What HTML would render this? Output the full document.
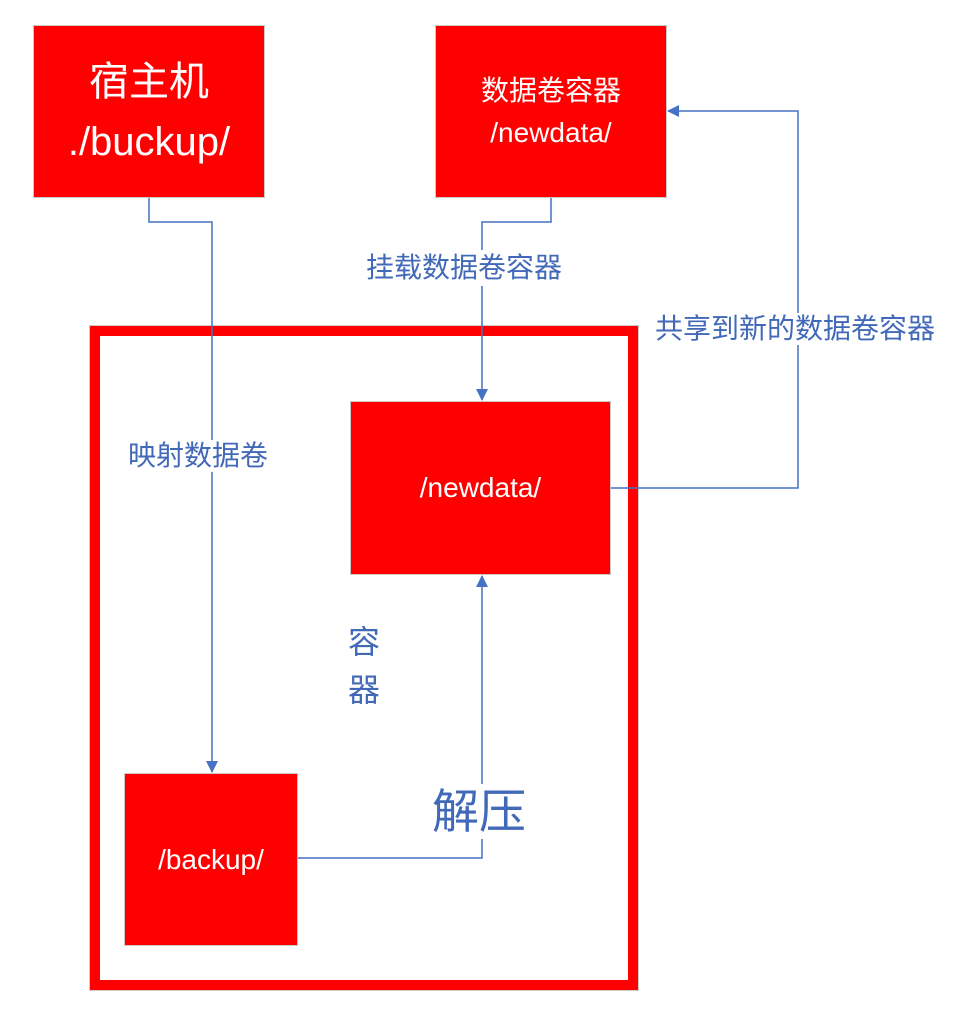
<!DOCTYPE html>
<html><head><meta charset="utf-8"><style>
body{margin:0;background:#fff;width:962px;height:1028px;overflow:hidden;position:relative;font-family:"Liberation Sans","Noto Sans CJK SC",sans-serif}
.box{position:absolute;background:#ff0000;border:1px solid #c8c8c8;box-sizing:border-box;color:#fff;display:flex;flex-direction:column;align-items:center;justify-content:center;text-align:center}
.t{position:absolute;color:#4169b8;white-space:nowrap;background:#fff;line-height:1}
</style></head><body>
<div style="position:absolute;left:90px;top:326px;width:548px;height:664px;border:10px solid #ff0000;box-sizing:border-box;outline:1px solid #ccc"></div>
<svg width="962" height="1028" style="position:absolute;left:0;top:0">
<defs><marker id="a" markerWidth="12" markerHeight="12" refX="11" refY="6" orient="auto" markerUnits="userSpaceOnUse"><path d="M0,0L12,6L0,12z" fill="#4472c4"/></marker></defs>
<g fill="none" stroke="#4472c4" stroke-width="1.5">
<path d="M149,198V222H212V772" marker-end="url(#a)"/>
<path d="M551,198V222H482V400" marker-end="url(#a)"/>
<path d="M611,488H798V111H668" marker-end="url(#a)"/>
<path d="M298,858H482V576" marker-end="url(#a)"/>
</g></svg>
<div class="box" style="left:33px;top:25px;width:232px;height:173px;font-size:40px;line-height:60px"><div>宿主机</div><div>./buckup/</div></div>
<div class="box" style="left:435px;top:25px;width:232px;height:173px;font-size:28px;line-height:42px"><div>数据卷容器</div><div>/newdata/</div></div>
<div class="box" style="left:350px;top:401px;width:261px;height:174px;font-size:28px">/newdata/</div>
<div class="box" style="left:124px;top:773px;width:174px;height:173px;font-size:28px">/backup/</div>
<div class="t" style="left:366px;top:250px;font-size:28px;padding:4px 0">挂载数据卷容器</div>
<div class="t" style="left:655px;top:313px;font-size:28px;padding:2px 0">共享到新的数据卷容器</div>
<div class="t" style="left:128px;top:440px;font-size:28px;padding:2px 0">映射数据卷</div>
<div class="t" style="left:348px;top:618px;font-size:32px;line-height:48px">容<br>器</div>
<div class="t" style="left:432px;top:784px;font-size:47px;padding:4px 0">解压</div>
</body></html>
